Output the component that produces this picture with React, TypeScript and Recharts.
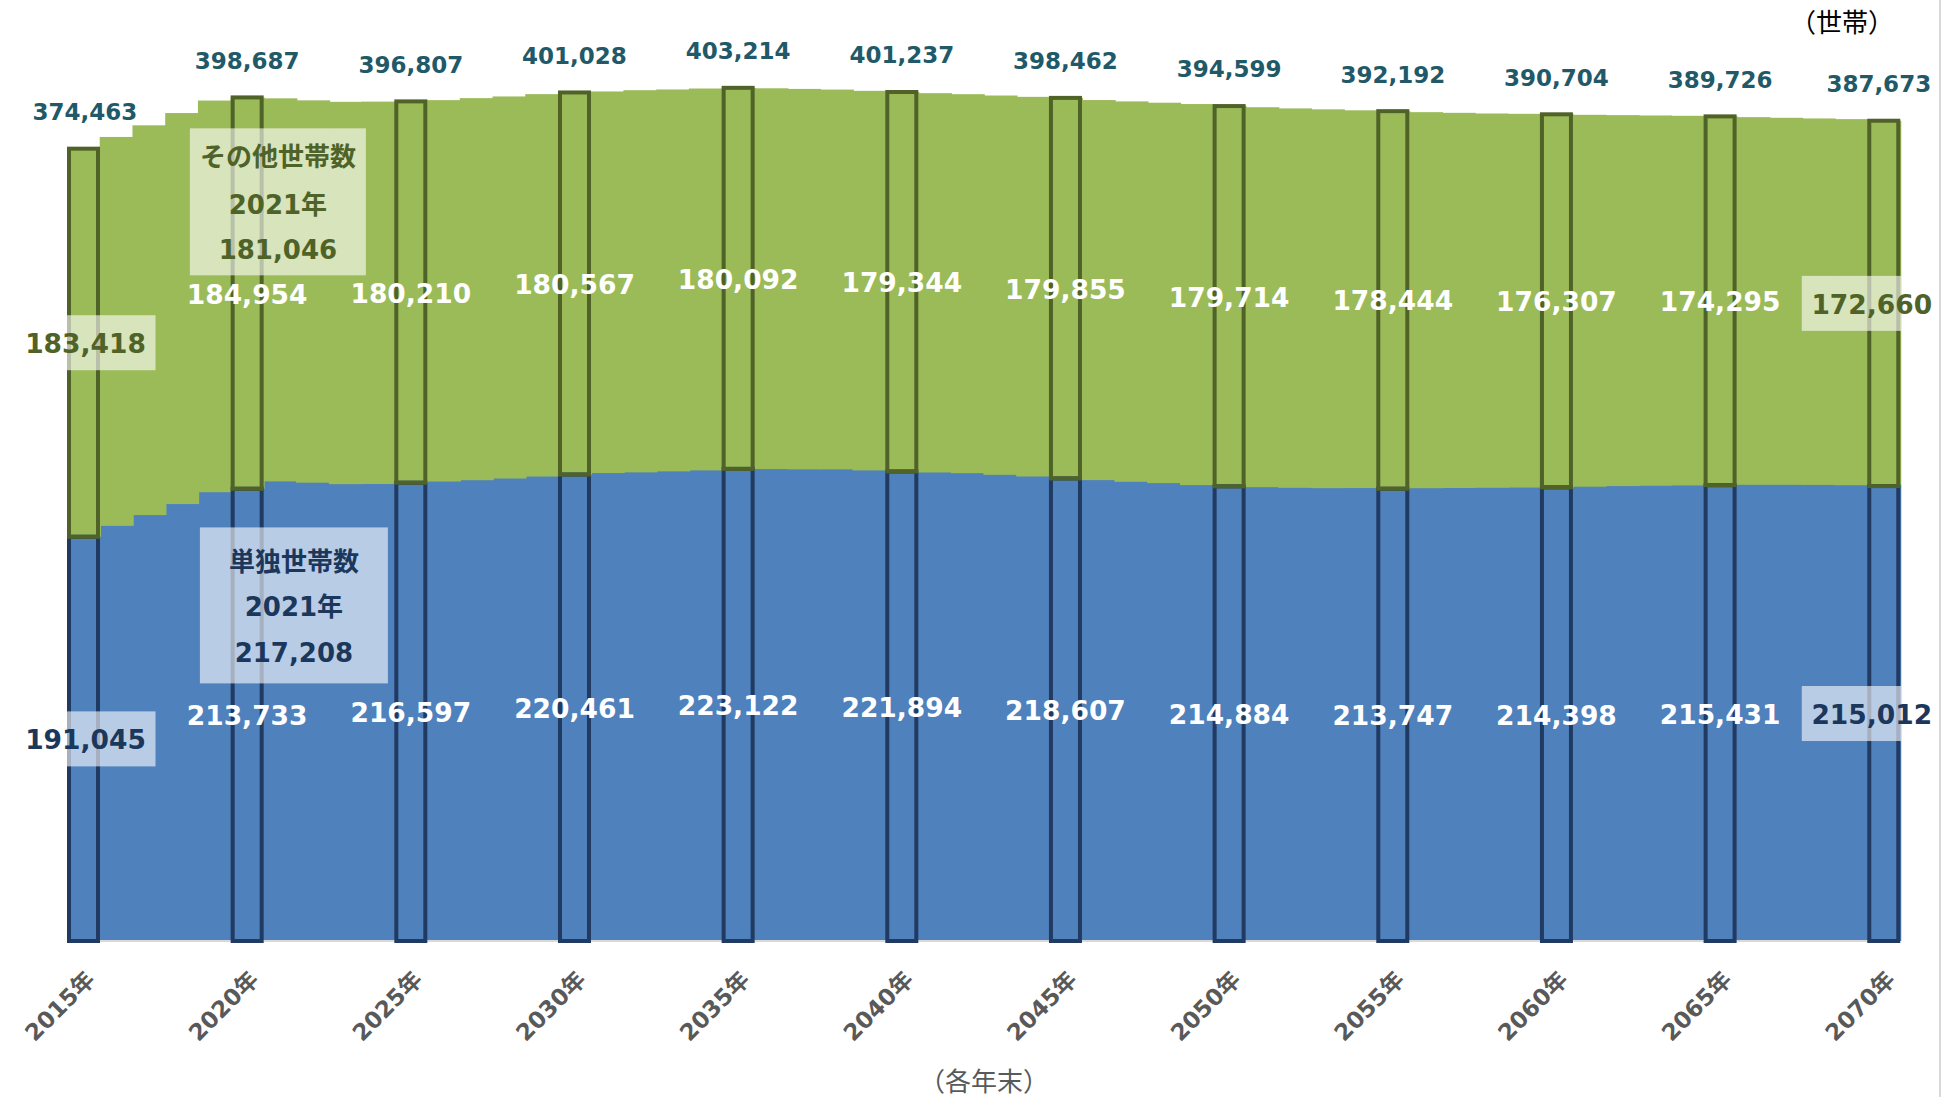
import React from 'react';
import { BarChart, Bar, XAxis, YAxis, LabelList } from 'recharts';

// ---- data ----
const years = [
  2015, 2016, 2017, 2018, 2019, 2020, 2021, 2022, 2023, 2024,
  2025, 2026, 2027, 2028, 2029, 2030, 2031, 2032, 2033, 2034,
  2035, 2036, 2037, 2038, 2039, 2040, 2041, 2042, 2043, 2044,
  2045, 2046, 2047, 2048, 2049, 2050, 2051, 2052, 2053, 2054,
  2055, 2056, 2057, 2058, 2059, 2060, 2061, 2062, 2063, 2064,
  2065, 2066, 2067, 2068, 2069, 2070,
];

// 単独世帯数
const single = [
  191045, 196200, 201300, 206500, 212100,
  213733, 217208, 216600, 215900, 216000,
  216597, 217150, 217770, 218560, 219500,
  220461, 221170, 221480, 221950, 222420,
  223122, 223040, 222900, 222900, 222400,
  221894, 221420, 221100, 220320, 219530,
  218607, 217820, 217030, 216400, 215460,
  214884, 214490, 214180, 214020, 214060,
  213747, 214000, 214100, 214200, 214300,
  214398, 214700, 215000, 215150, 215300,
  215431, 215600, 215600, 215550, 215400,
  215012,
];

// その他世帯数
const other = [
  183418, 183800, 184200, 184800, 185100,
  184954, 181046, 180700, 180700, 180700,
  180210, 180250, 180580, 180580, 180740,
  180567, 180330, 180620, 180490, 180480,
  180092, 179960, 179800, 179500, 179400,
  179344, 179270, 179120, 179270, 179430,
  179855, 179620, 179780, 179780, 180090,
  179714, 179560, 179320, 179030, 178540,
  178444, 177720, 177300, 176890, 176630,
  176307, 175770, 175310, 175000, 174700,
  174295, 173770, 173460, 173190, 173030,
  172660,
];

const highlightYears = [2015, 2020, 2025, 2030, 2035, 2040, 2045, 2050, 2055, 2060, 2065, 2070];
const totalLabels = [374463, 398687, 396807, 401028, 403214, 401237, 398462, 394599, 392192, 390704, 389726, 387673];

const annotationYear = 2021;
const singleName = '単独世帯数';
const otherName = 'その他世帯数';
const yearSuffix = '年';
const unitLabel = '（世帯）';
const axisNote = '（各年末）';

const data = years.map((y, i) => ({ year: y, single: single[i], other: other[i] }));

// ---- styles ----
const BLUE = '#4F81BD';
const GREEN = '#9BBB59';
const BLUE_DARK = '#213A62';
const GREEN_DARK = '#4F6228';
const NAVY_TEXT = '#1B375C';
const TEAL_TEXT = '#215968';
const FONT = "'DejaVu Sans', 'Noto Sans CJK JP', sans-serif";
const CJK_FONT = "'Noto Sans CJK JP', sans-serif";

const fmt = (v: number) => v.toLocaleString('en-US');

function vbOf(props: any) {
  const vb = props.viewBox || {};
  return {
    x: vb.x ?? props.x,
    y: vb.y ?? props.y,
    width: vb.width ?? props.width,
    height: vb.height ?? props.height,
  };
}

const BlueShape = (p: any) => (
  <rect x={p.x} y={p.y - 1} width={p.width + 1} height={p.height + 1} fill={BLUE} />
);
const GreenShape = (p: any) => (
  <rect x={p.x} y={p.y} width={p.width + 1} height={p.height} fill={GREEN} />
);

function edgeDx(i: number, first: number, last: number) {
  if (i === 0) return first;
  if (i === years.length - 1) return last;
  return 0;
}

function valueWithBox(
  key: string, i: number, x: number, width: number, cx: number, cy: number,
  value: number, boxed: boolean, textColor: string,
) {
  const els: any[] = [];
  if (boxed) {
    let left = cx - 70;
    let right = cx + 70;
    if (i === 0) left = Math.max(left, x);
    if (i === years.length - 1) right = Math.min(right, x + width + 1);
    els.push(
      <rect key={key + 'b'} x={left} y={cy - 27.5} width={right - left} height={55} fill="#FFFFFF" fillOpacity={0.6} />,
    );
  }
  els.push(
    <text key={key + 't'} x={cx} y={cy + 10.5} textAnchor="middle" fontSize={26.5} fontWeight="bold"
      fontFamily={FONT} fill={boxed ? textColor : '#FFFFFF'}>
      {fmt(value)}
    </text>,
  );
  return els;
}

const SingleLabel = (props: any) => {
  const { x, y, width, height } = vbOf(props);
  const i = props.index;
  if (i == null || x == null) return null;
  const year = years[i];
  const els: any[] = [];
  const hi = highlightYears.indexOf(year);
  const edge = i === 0 || i === years.length - 1;
  if (hi >= 0) {
    els.push(
      <rect key="o" x={x + 2} y={y} width={width - 4} height={height} fill="none" stroke={BLUE_DARK} strokeWidth={4} />,
    );
    const cx = x + width / 2 + edgeDx(i, 2, -12);
    const cy = y + height / 2;
    els.push(...valueWithBox('v', i, x, width, cx, cy, single[i], edge, NAVY_TEXT));
  }
  if (year === annotationYear) {
    const bc = x + width / 2 + 14;
    els.push(<rect key="ab" x={bc - 94} y={y + 46} width={188} height={156} fill="#FFFFFF" fillOpacity={0.6} />);
    const lines = [singleName, `${annotationYear}${yearSuffix}`, fmt(single[i])];
    const offs = [90, 135, 181];
    lines.forEach((t, k) => {
      els.push(
        <text key={'al' + k} x={bc} y={y + offs[k]} textAnchor="middle" fontSize={26} fontWeight="bold"
          fontFamily={FONT} fill={NAVY_TEXT}>{t}</text>,
      );
    });
  }
  return <g>{els}</g>;
};

const OtherLabel = (props: any) => {
  const { x, y, width, height } = vbOf(props);
  const i = props.index;
  if (i == null || x == null) return null;
  const year = years[i];
  const els: any[] = [];
  const hi = highlightYears.indexOf(year);
  const edge = i === 0 || i === years.length - 1;
  if (hi >= 0) {
    els.push(
      <rect key="o" x={x + 2} y={y} width={width - 4} height={height} fill="none" stroke={GREEN_DARK} strokeWidth={4} />,
    );
    const cx = x + width / 2 + edgeDx(i, 2, -12);
    const cy = y + height / 2;
    els.push(...valueWithBox('v', i, x, width, cx, cy, other[i], edge, GREEN_DARK));
    const tx = x + width / 2 + edgeDx(i, 1.5, -5);
    els.push(
      <text key="tot" x={tx} y={y - 28.6} textAnchor="middle" fontSize={23} fontWeight="bold"
        fontFamily={FONT} fill={TEAL_TEXT}>{fmt(totalLabels[hi])}</text>,
    );
  }
  if (year === annotationYear) {
    const bc = x + width / 2 - 2;
    els.push(<rect key="ab" x={bc - 88} y={y + 30} width={176} height={147} fill="#FFFFFF" fillOpacity={0.6} />);
    const lines = [otherName, `${annotationYear}${yearSuffix}`, fmt(other[i])];
    const offs = [68, 116, 161];
    lines.forEach((t, k) => {
      els.push(
        <text key={'al' + k} x={bc} y={y + offs[k]} textAnchor="middle" fontSize={26} fontWeight="bold"
          fontFamily={FONT} fill={GREEN_DARK}>{t}</text>,
      );
    });
  }
  return <g>{els}</g>;
};

const YearTick = (props: any) => {
  const { x, y, payload } = props;
  const ax = x + 13;
  const ay = y + 40;
  return (
    <text x={ax} y={ay} textAnchor="end" transform={`rotate(-45, ${ax}, ${ay})`} fontSize={23}
      fontWeight="bold" fontFamily={FONT} fill="#595959">
      {`${payload.value}${yearSuffix}`}
    </text>
  );
};

export default function App() {
  return (
    <div style={{ position: 'absolute', left: 0, top: 0, width: 1955, height: 1097, background: '#FFFFFF', overflow: 'hidden' }}>
      <BarChart
        width={1955}
        height={1097}
        data={data}
        margin={{ top: 10, right: 55, bottom: 0, left: 67 }}
        barCategoryGap={0}
        barGap={0}
      >
        <XAxis
          dataKey="year"
          interval={4}
          tickLine={false}
          tickSize={0}
          tickMargin={0}
          height={156}
          axisLine={{ stroke: '#D9D9D9', strokeWidth: 2 }}
          tick={<YearTick />}
          padding={{ left: 0, right: 0 }}
        />
        <YAxis hide domain={[0, 440000]} allowDataOverflow />
        <Bar dataKey="single" stackId="a" fill={BLUE} shape={<BlueShape />} isAnimationActive={false}>
          <LabelList dataKey="single" content={SingleLabel} />
        </Bar>
        <Bar dataKey="other" stackId="a" fill={GREEN} shape={<GreenShape />} isAnimationActive={false}>
          <LabelList dataKey="other" content={OtherLabel} />
        </Bar>
      </BarChart>
      <div style={{ position: 'absolute', left: 1742, top: 6, width: 200, textAlign: 'center', fontFamily: CJK_FONT, fontSize: 26, lineHeight: '30px', color: '#000000' }}>
        {unitLabel}
      </div>
      <div style={{ position: 'absolute', left: 884, top: 1065, width: 200, textAlign: 'center', fontFamily: CJK_FONT, fontSize: 26, lineHeight: '30px', color: '#595959' }}>
        {axisNote}
      </div>
      <div style={{ position: 'absolute', left: 1939, top: 0, width: 2, height: 1097, background: '#D9D9D9' }} />
    </div>
  );
}
